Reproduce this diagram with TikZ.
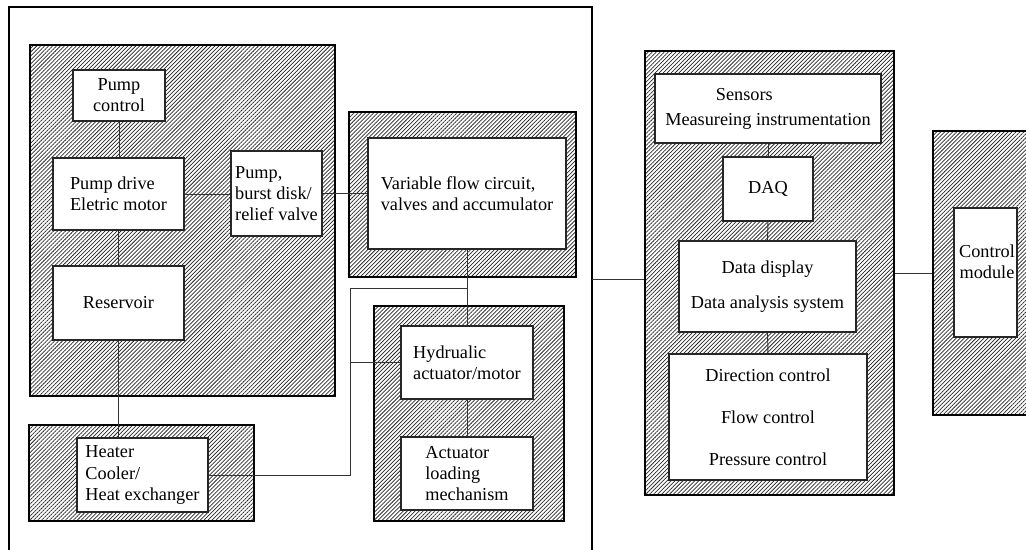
\documentclass[tikz,border=0pt]{standalone}
\usepackage{fontspec}
\setmainfont{Liberation Serif}
\usetikzlibrary{patterns.meta}
\begin{document}
\begin{tikzpicture}[x=0.75pt,y=-0.75pt,
 sz/.style n args={2}{minimum width=#1*0.75pt, minimum height=#2*0.75pt},
 hatch/.style={draw=black, pattern={Lines[angle=45,distance=2.1pt,line width=0.55pt]}, pattern color=black!85, inner sep=0pt},
 thinpanel/.style={hatch, line width=0.8pt},
 thickpanel/.style={hatch, line width=1.6pt},
 txt/.style={font=\fontsize{13.7pt}{15.8pt}\selectfont},
 blk/.style={txt, draw=black!85, fill=white, line width=0.9pt, inner sep=0pt},
 conn/.style={draw=black!80, line width=0.7pt}]
\useasboundingbox (0,0) rectangle (1026,550);
\begin{scope}
\clip (0,0) rectangle (1026,550);
% panels
\node[thinpanel, sz={305}{351}] (leftpanel) at (182.5,220.5) {};
\node[thinpanel, sz={225}{96}] (heatpanel) at (141.5,473) {};
\node[thinpanel, sz={227}{165}] (varpanel) at (462.5,194.5) {};
\node[thinpanel, sz={190}{215}] (hydpanel) at (469,413.5) {};
\node[thickpanel, sz={249}{444}] (midpanel) at (769.5,273) {};
\node[thickpanel, sz={107}{284}] (rightpanel) at (986.5,273) {};
\node[draw, line width=1.6pt, inner sep=0pt, sz={583}{563}] (outer) at (300.5,288.5) {};
% boxes
\node[blk, sz={92}{51}, align=center] (pumpctrl) at (119,95.5) {Pump\\control};
\node[blk, sz={131}{72}, align=left] (pumpdrive) at (118.5,194) {Pump drive\\Eletric motor};
\node[blk, sz={91}{85}, align=left] (pumpburst) at (276.5,193.5) {Pump,\\burst disk/\\relief valve};
\node[blk, sz={131}{74}] (reservoir) at (118.5,303) {Reservoir};
\node[blk, sz={131}{74}, align=left] (heater) at (142.5,475) {Heater\\Cooler/\\Heat exchanger};
\node[blk, line width=1.6pt, sz={198}{111}, align=left] (varflow) at (467,193.5) {Variable flow circuit,\\valves and accumulator};
\node[blk, sz={132}{73}, align=left] (hyd) at (467,362.5) {Hydrualic\\actuator/motor};
\node[blk, sz={132}{73}, align=left] (act) at (467,473.5) {Actuator\\loading\\mechanism};
\node[blk, sz={226}{69}, align=left] (sensors) at (768,108.5) {\hspace*{38pt}Sensors\\[3pt]Measureing instrumentation};
\node[blk, sz={90}{64}] (daq) at (768,189) {DAQ};
\node[blk, sz={177}{91}, align=center] (display) at (767.5,286.5) {Data display\\[11pt]Data analysis system};
\node[blk, sz={198}{126}, align=center] (dirctrl) at (768,417) {Direction control\\[15.7pt]Flow control\\[15.7pt]Pressure control};
\node[blk, sz={63}{129}] (ctrlmod) at (985.5,272.5) {};
\node[txt, align=center, inner sep=0pt] (ctrltext) at (987,262) {Control\\module};
% connectors
\coordinate (j1) at (467,288);
\coordinate (c1) at (350,288);
\coordinate (o1) at (592,279);
\draw[conn] (pumpctrl.south) -- (pumpctrl.south |- pumpdrive.north);
\draw[conn] (pumpdrive.south) -- (pumpdrive.south |- reservoir.north);
\draw[conn] (reservoir.south) -- (reservoir.south |- heater.north);
\draw[conn] (pumpdrive.east) -- (pumpburst.west |- pumpdrive.east);
\draw[conn] (pumpburst.east) -- (pumpburst.east -| varflow.west);
\draw[conn] (varflow.south) -- (hyd.north);
\draw[conn] (j1) -- (c1) -- (c1 |- heater.east) -- (heater.east);
\draw[conn] (c1 |- hyd.west) -- (hyd.west);
\draw[conn] (hyd.south) -- (act.north);
\draw[conn] (o1) -- (o1 -| midpanel.west);
\draw[conn] (sensors.south) -- (daq.north);
\draw[conn] (daq.south) -- (display.north);
\draw[conn] (display.south) -- (dirctrl.north);
\draw[conn] (midpanel.east) -- (rightpanel.west);
\end{scope}
\end{tikzpicture}
\end{document}
